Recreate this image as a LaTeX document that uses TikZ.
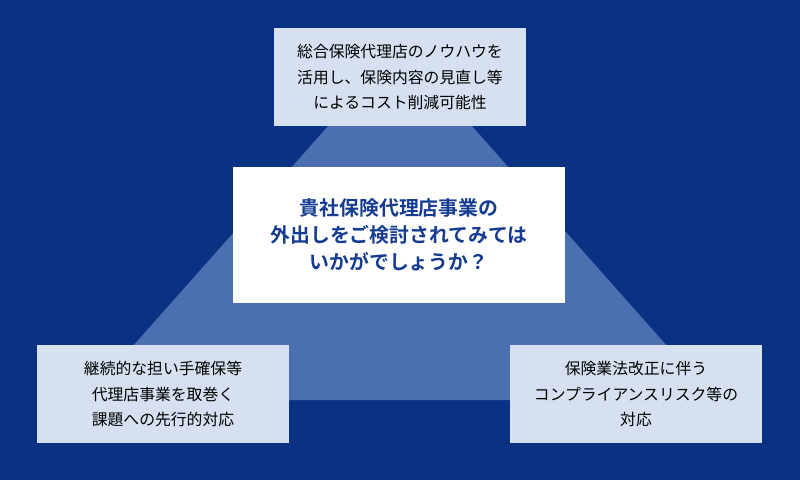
\documentclass[tikz,border=0pt]{standalone}
\usepackage{fontspec}
\newfontfamily\jpfont{Noto Sans CJK JP}
\newfontfamily\jpbold{Noto Sans CJK JP Bold}
\definecolor{navybg}{HTML}{0B3282}
\definecolor{triblue}{HTML}{4B6FB1}
\definecolor{boxlight}{HTML}{D6E0F0}
\definecolor{textblue}{HTML}{163C92}
\usetikzlibrary{positioning}

\begin{document}
\begin{tikzpicture}[
    x=0.02cm, y=-0.02cm,
    corner/.style={rectangle, draw=none, fill=boxlight, minimum width=5.06cm, minimum height=1.98cm, align=center, font=\jpfont\fontsize{9}{14.7}\selectfont, text=black},
    centre/.style={rectangle, draw=none, fill=white, minimum width=6.64cm, minimum height=2.72cm, align=center, font=\jpbold\fontsize{11.3}{15.3}\selectfont, text=textblue}
]

% background and triangle
\fill[navybg] (0,0) rectangle (800,480);
\fill[triblue] (400,45) -- (85,400) -- (715,400) -- cycle;

\node[centre] (core) at (399,235) {貴社保険代理店事業の\\外出しをご検討されてみては\\いかがでしょうか？};

\node[corner] (cost) at (400,77) {総合保険代理店のノウハウを\\活用し、保険内容の見直し等\\によるコスト削減可能性};
\node[corner] (issue) at (163,394) {継続的な担い手確保等\\代理店事業を取巻く\\課題への先行的対応};
\node[corner] (law) at (636,394) {保険業法改正に伴う\\コンプライアンスリスク等の\\対応};

\end{tikzpicture}
\end{document}
